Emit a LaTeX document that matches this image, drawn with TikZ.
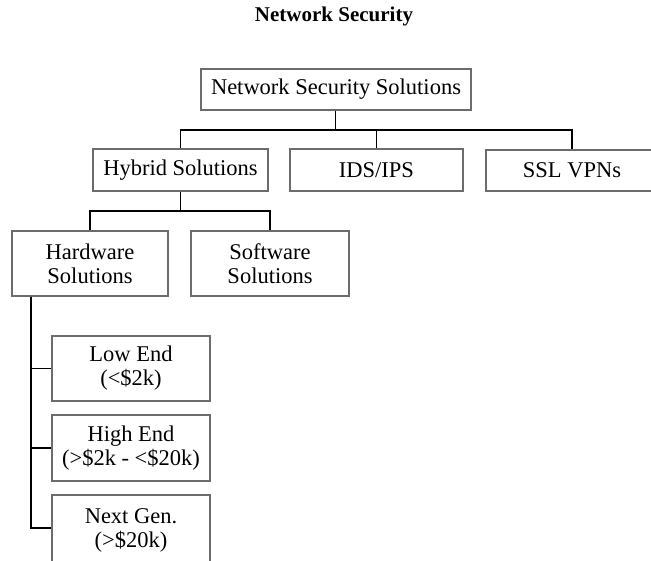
\documentclass[tikz,border=0pt]{standalone}
\usepackage{fontspec}
\setmainfont{Liberation Serif}
\begin{document}
\begin{tikzpicture}[x=1pt,y=-1pt,
  box/.style={draw=gray!85!black,line width=1.3pt,fill=white,inner sep=0pt,align=center,
    font=\fontsize{22.5}{24}\selectfont},
  link/.style={draw=black,line width=1.8pt}]
\useasboundingbox (0,0) rectangle (651,560);
\clip (0,0) rectangle (651,560);
\node[font=\fontsize{21}{24}\selectfont\bfseries,anchor=base] (title) at (334,21) {Network Security};
\node[box,minimum width=270pt,minimum height=41pt] (root) at (336,89.5) {Network Security Solutions};
\node[box,minimum width=175pt,minimum height=42pt] (hyb) at (180.5,170) {Hybrid Solutions};
\node[box,minimum width=173pt,minimum height=42pt] (ids) at (376.5,170) {IDS/IPS};
\node[box,minimum width=172pt,minimum height=41pt] (ssl) at (572,170.5) {SSL VPNs};
\node[box,minimum width=156pt,minimum height=65pt] (hw) at (90,263.5) {Hardware\\Solutions};
\node[box,minimum width=158pt,minimum height=65pt] (sw) at (270,263.5) {Software\\Solutions};
\node[box,minimum width=158pt,minimum height=65pt] (low) at (131,368.5) {Low End\\(<\$2k)};
\node[box,minimum width=158pt,minimum height=66pt] (high) at (131,448) {High End\\(>\$2k - <\$20k)};
\node[box,minimum width=158pt,minimum height=70pt] (next) at (131,530) {Next Gen.\\(>\$20k)};
\coordinate (bar1) at (0,130);
\coordinate (bar2) at (0,211);
\coordinate (spine) at (31,0);
\coordinate (nextmid) at (0,528);
\draw[link] (root.south -| 335.5,0) -- (bar1 -| 335.5,0);
\draw[link] (hyb.north) |- (bar1 -| ssl.north) -- (ssl.north);
\draw[link] (ids.north) -- (bar1 -| ids.north);
\draw[link] (hyb.south) -- (bar2 -| hyb.south);
\draw[link] (hw.north) |- (bar2 -| sw.north) -- (sw.north);
\draw[link] (hw.south -| spine) |- (low.west);
\draw[link] (hw.south -| spine) |- (high.west);
\draw[link] (hw.south -| spine) |- (nextmid -| next.west);
\end{tikzpicture}
\end{document}
